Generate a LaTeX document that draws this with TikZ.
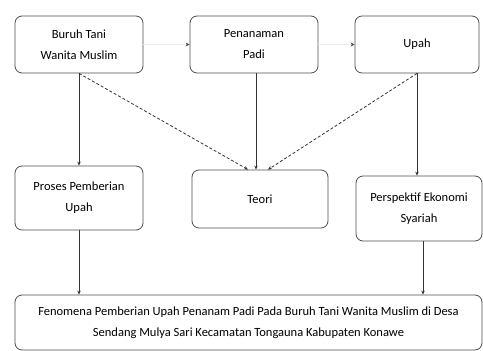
\documentclass[tikz,border=0pt]{standalone}
\usepackage{fontspec}
\setmainfont{Carlito}
\usetikzlibrary{arrows.meta}

\tikzset{
  kotak/.style={draw=black!70, rounded corners=7pt, align=center,
    font=\fontsize{12.5}{21}\selectfont, inner sep=2pt},
  panah/.style={-{Stealth[length=4pt,width=3.5pt]}, black!80},
  putus/.style={panah, densely dashed}
}

\begin{document}
\begin{tikzpicture}[x=1pt, y=-1pt, thick]
  \useasboundingbox (0,0) rectangle (483,351);

  % baris atas
  \node[kotak, minimum width=128pt, minimum height=57pt] (buruh) at (79,44.5) {Buruh Tani\\Wanita Muslim};
  \node[kotak, minimum width=128pt, minimum height=57pt] (padi) at (254,44.5) {Penanaman\\Padi};
  \node[kotak, minimum width=124pt, minimum height=57pt] (upah) at (417,44.5) {Upah};

  % baris tengah
  \node[kotak, minimum width=128pt, minimum height=64pt] (proses) at (79,198) {Proses Pemberian\\Upah};
  \node[kotak, minimum width=136pt, minimum height=58pt] (teori) at (260,199) {Teori};
  \node[kotak, minimum width=126pt, minimum height=65pt] (syariah) at (419,208.5) {Perspektif Ekonomi\\Syariah};

  % kotak bawah
  \node[kotak, minimum width=467pt, minimum height=55pt] (fenomena) at (248.5,322.5)
    {Fenomena Pemberian Upah Penanam Padi Pada Buruh Tani Wanita Muslim di Desa\\
     Sendang Mulya Sari Kecamatan Tongauna Kabupaten Konawe};

  % panah antar kotak atas
  \draw[panah, black!8, -{Stealth[length=4pt,width=4pt,black!70]}] (buruh) -- (padi);
  \draw[panah, black!8, -{Stealth[length=4pt,width=4pt,black!70]}] (padi) -- (upah);

  % panah ke bawah
  \draw[panah] (buruh) -- (proses);
  \draw[putus] (buruh.south) -- ([xshift=-12pt]teori.north);
  \draw[panah] ([xshift=2pt]padi.south) -- ([xshift=2pt]padi.south |- teori.north);
  \draw[putus] (upah.south) -- ([xshift=8pt]teori.north);
  \draw[panah] (upah.south) -- (upah.south |- syariah.north);

  \draw[panah] (proses.south) -- (proses.south |- fenomena.north);
  \draw[panah] ([xshift=4pt]syariah.south) -- ([xshift=4pt]syariah.south |- fenomena.north);
\end{tikzpicture}
\end{document}
